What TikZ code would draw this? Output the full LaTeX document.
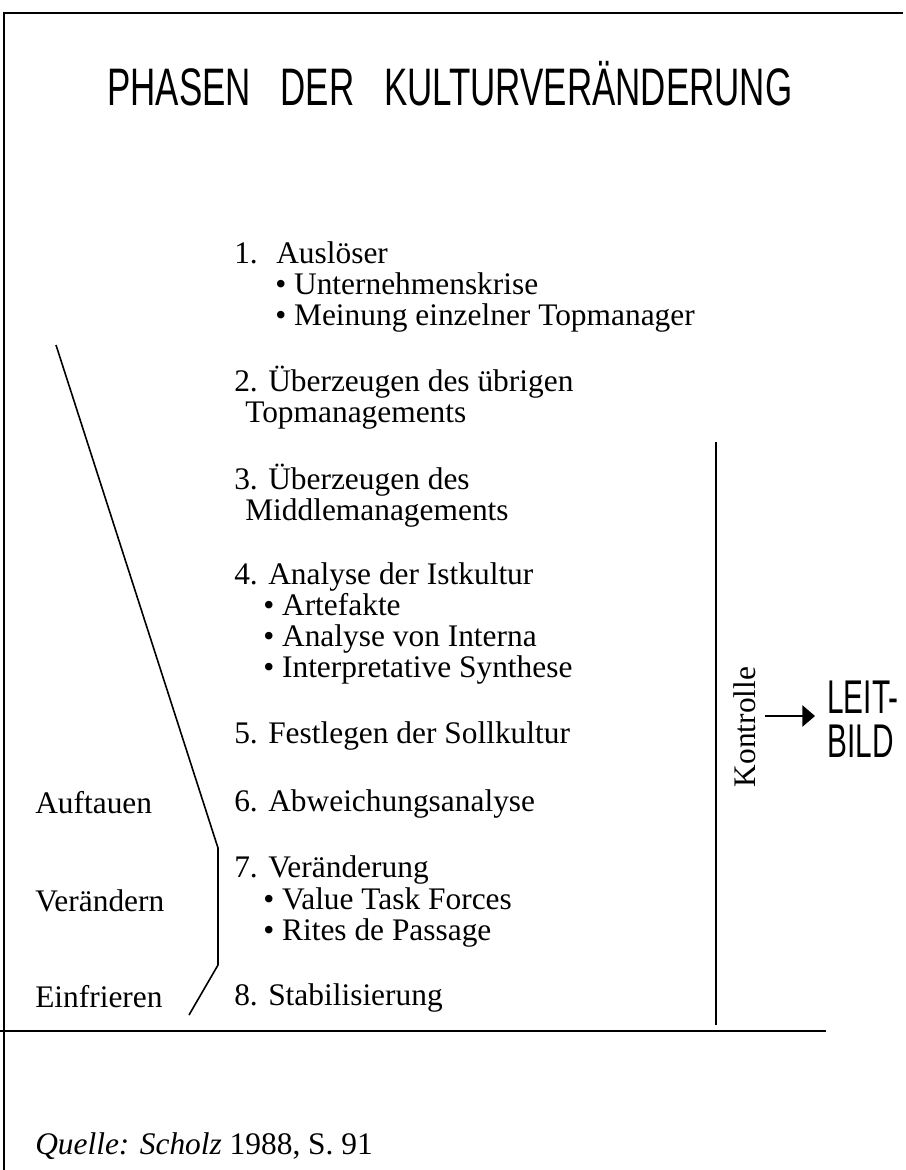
\documentclass[tikz,border=0pt]{standalone}
\usepackage{fontspec}
\usepackage{graphicx}
\setmainfont{Liberation Serif}
\newfontfamily\hsans{Liberation Sans}
\usetikzlibrary{arrows.meta}
\tikzset{
  body/.style={font=\fontsize{23.55}{23.25}\selectfont, inner sep=0pt, anchor=base west},
  bigsans/.style={font=\hsans\fontsize{35.5}{36}\selectfont, inner sep=0pt, anchor=base west},
  frame/.style={line width=0.9pt},
  rule/.style={line width=1.4pt},
  bracket/.style={line width=1.2pt, line join=miter},
  arrowline/.style={line width=1.1pt, -{Triangle[length=9.5pt, width=16pt]}}
}
\begin{document}
\begin{tikzpicture}[x=0.75pt, y=-0.75pt]
\useasboundingbox (0,0) rectangle (906,1170);
\fill[white] (-4,-4) rectangle (910,1174);

% frame
\coordinate (fbl) at (4,1174);
\coordinate (ftl) at (4,13);
\coordinate (ftr) at (903,13);
\draw[frame] (fbl) -- (ftl) -- (ftr);
\coordinate (bl) at (0,1031);
\coordinate (br) at (826,1031);
\draw[rule] (bl) -- (br);

% title
\node[inner sep=0pt, anchor=base west] (title) at (107,106)
  {\resizebox{513.75pt}{\height}{\hsans\fontsize{39.6}{40}\selectfont PHASEN\hspace{0.85em}DER\hspace{0.85em}KULTURVERÄNDERUNG}};

% phases
\node[body] (p1)  at (234,263) {1.\hspace{0.59em}Auslöser};
\node[body] (p1a) at (275,294) {• Unternehmenskrise};
\node[body] (p1b) at (275,325) {• Meinung einzelner Topmanager};
\node[body] (p2)  at (234,391) {2. Überzeugen des übrigen};
\node[body] (p2a) at (245,422) {Topmanagements};
\node[body] (p3)  at (234,489) {3. Überzeugen des};
\node[body] (p3a) at (245,520) {Middlemanagements};
\node[body] (p4)  at (234,584) {4. Analyse der Istkultur};
\node[body] (p4a) at (263,615) {• Artefakte};
\node[body] (p4b) at (263,646) {• Analyse von Interna};
\node[body] (p4c) at (263,677) {• Interpretative Synthese};
\node[body] (p5)  at (234,743) {5. Festlegen der Sollkultur};
\node[body] (p6)  at (234,811) {6. Abweichungsanalyse};
\node[body] (p7)  at (234,877) {7. Veränderung};
\node[body] (p7a) at (263,909) {• Value Task Forces};
\node[body] (p7b) at (263,940) {• Rites de Passage};
\node[body] (p8)  at (234,1005) {8. Stabilisierung};

% left labels
\node[body] (auf) at (35,813) {Auftauen};
\node[body] (ver) at (35,911) {Verändern};
\node[body] (ein) at (35,1007) {Einfrieren};

% bracket line
\coordinate (l1) at (56,345);
\coordinate (l2) at (218,848);
\coordinate (l3) at (218,965);
\coordinate (l4) at (189,1015);
\draw[bracket] (l1) -- (l2) -- (l3) -- (l4);

% Kontrolle
\coordinate (k1) at (716,442);
\coordinate (k2) at (716,1025);
\draw[rule] (k1) -- (k2);
\node[body, rotate=90, anchor=base] (kontrolle) at (755,727) {Kontrolle};

\node[bigsans] (leit) at (827,713) {\scalebox{0.63}[1]{LEIT-}};
\node[bigsans] (bild) at (827,757) {\scalebox{0.63}[1]{BILD}};
\coordinate (a1) at (765,716);
\coordinate (a2) at (815,716);
\draw[arrowline] (a1) -- (a2);

% source
\node[body] (quelle) at (35,1154) {\textit{Quelle: Scholz} 1988, S.~91};
\end{tikzpicture}
\end{document}
